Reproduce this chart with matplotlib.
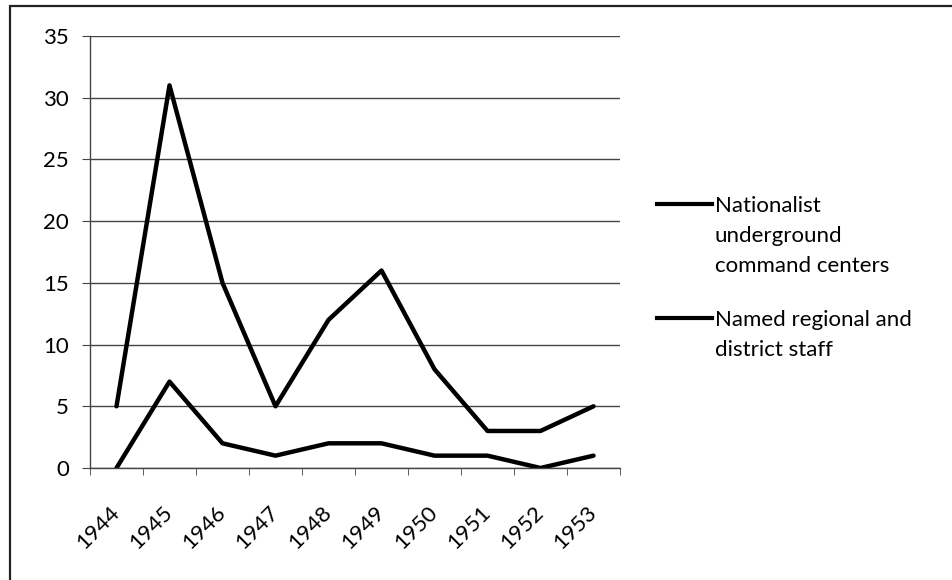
import matplotlib.pyplot as plt
import numpy as np
from matplotlib.lines import Line2D
from matplotlib.patches import Rectangle

plt.rcParams['font.family'] = ['Lato', 'DejaVu Sans']

years = ['1944', '1945', '1946', '1947', '1948', '1949', '1950', '1951', '1952', '1953']
command_centers = [5, 31, 15, 5, 12, 16, 8, 3, 3, 5]
regional_staff = [0, 7, 2, 1, 2, 2, 1, 1, 0, 1]
labels = ['Nationalist\nunderground\ncommand centers', 'Named regional and\ndistrict staff']

fig = plt.figure(figsize=(9.52, 5.8), dpi=100)
ax = fig.add_axes([90 / 952, 1 - 468 / 580, 530 / 952, 432 / 580])

x = np.arange(len(years))
for series in (command_centers, regional_staff):
    ax.plot(x, series, color='black', lw=3.2, solid_joinstyle='round', solid_capstyle='round')

ax.set_xlim(-0.5, len(years) - 0.5)
ax.set_ylim(0, 35)
ax.set_yticks(range(0, 36, 5))
ax.grid(axis='y', color='#444444', lw=1)
ax.set_axisbelow(True)

for s in ('top', 'right'):
    ax.spines[s].set_visible(False)
for s in ('left', 'bottom'):
    ax.spines[s].set_color('#444444')
    ax.spines[s].set_linewidth(1)

ax.set_xticks(x)
ax.set_xticklabels(years, rotation=45, ha='right', va='center', rotation_mode='anchor')
ax.set_xticks(np.arange(-0.5, len(years)), minor=True)
ax.tick_params(axis='x', which='major', length=0, pad=30, labelsize=16)
ax.tick_params(axis='x', which='minor', length=5, color='#444444', direction='out')
ax.tick_params(axis='y', length=6, color='#444444', pad=9, labelsize=16)

# legend drawn by hand so the key sits by the first text line
for i, lab in enumerate(labels):
    yk = 1 - (204 + 114 * i) / 580
    fig.add_artist(Line2D([657 / 952, 712 / 952], [yk, yk], color='black', lw=3))
    fig.text(715 / 952, yk + 8 / 580, lab, fontsize=16, va='top', ha='left',
             linespacing=1.62)

fig.add_artist(Rectangle((10 / 952, -0.1), 1.2, 1 - 6 / 580 + 0.1, fill=False,
                         edgecolor='#222222', lw=1.6, transform=fig.transFigure))

fig.savefig('out.png', dpi=100)
